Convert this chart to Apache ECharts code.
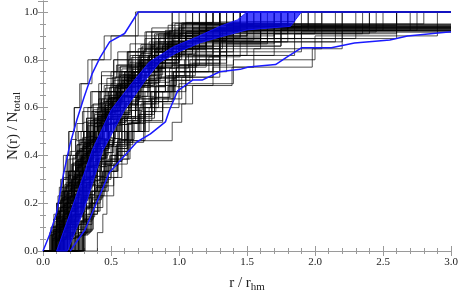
<!DOCTYPE html>
<html><head><meta charset="utf-8">
<script src="https://cdn.jsdelivr.net/npm/echarts@6/dist/echarts.min.js"></script>
<style>html,body{margin:0;padding:0;background:#fff}#c{width:458px;height:292px}</style>
</head><body><div id="c"></div>
<script>
// ---- data ----
const xTickLabels = ['0.0','0.5','1.0','1.5','2.0','2.5','3.0'];
const yTickLabels = ['0.0','0.2','0.4','0.6','0.8','1.0'];

// total members of each cluster (N_total)
const clusterTotals = [10,12,15,20,18,11,14,22,16,9,13,25,17,10,12,20,14,8,19,15,21,11,13,16,24,9,12,18,14,20,10,16,22,13,15,11,17,19,12,14,8,20,16,13,13,23,7,18,12,15,
  10,15,12,18,9,14,11,13,16,8,20,17,12,22,10,15,19,13,11,16,14,9,21,12,17,10,18,13,15,20,
  16,12,20,14,9,18,11,15,22,13,10,17,19,12,14,16,8,21,13,15];
// radii (r / r_hm) at which the cumulative count steps up
const clusterRadii = [
 [0.06,0.1,0.13,0.15,0.19,0.23,0.28,0.36,0.5,0.7],
 [0.08,0.12,0.15,0.2,0.26,0.3,0.35,0.42,0.5,0.62,0.8,0.95],
 [0.1,0.14,0.18,0.21,0.25,0.3,0.33,0.38,0.45,0.52,0.6,0.72,0.9,1.1,1.45],
 [0.12,0.15,0.18,0.2,0.23,0.26,0.3,0.33,0.37,0.41,0.46,0.5,0.56,0.62,0.7,0.8,0.92,1.05,1.3,1.6],
 [0.15,0.2,0.24,0.28,0.32,0.36,0.41,0.46,0.52,0.58,0.65,0.74,0.85,0.98,1.15,1.4,1.9,2.6],
 [0.2,0.25,0.3,0.37,0.45,0.55,0.68,0.85,1.1,1.5,2.4],
 [0.07,0.1,0.13,0.17,0.22,0.27,0.33,0.4,0.48,0.58,0.7,0.88,1.2,1.8],
 [0.1,0.12,0.14,0.17,0.19,0.22,0.25,0.28,0.31,0.34,0.38,0.42,0.46,0.51,0.56,0.62,0.7,0.78,0.9,1.05,1.35,1.7],
 [0.18,0.22,0.26,0.3,0.35,0.4,0.45,0.52,0.6,0.68,0.78,0.9,1.05,1.3,1.65,1.95],
 [0.22,0.3,0.38,0.47,0.6,0.75,0.95,1.3,2.6],
 [0.11,0.16,0.2,0.24,0.28,0.33,0.39,0.46,0.55,0.66,0.82,1.15,1.4],
 [0.09,0.11,0.13,0.15,0.17,0.19,0.21,0.23,0.26,0.29,0.32,0.35,0.38,0.42,0.46,0.5,0.55,0.6,0.66,0.73,0.82,0.95,1.15,1.5,1.85],
 [0.13,0.17,0.21,0.25,0.28,0.31,0.35,0.39,0.44,0.5,0.57,0.65,0.75,0.9,1.1,1.55,2.2],
 [0.25,0.32,0.4,0.5,0.62,0.78,1.0,1.4,2.0,2.9],
 [0.06,0.1,0.14,0.19,0.25,0.32,0.4,0.5,0.63,0.8,1.1,1.35],
 [0.16,0.19,0.22,0.25,0.28,0.31,0.34,0.37,0.41,0.45,0.5,0.55,0.61,0.68,0.76,0.86,1.0,1.25,1.7,2.05],
 [0.3,0.34,0.38,0.43,0.48,0.55,0.62,0.7,0.8,0.93,1.1,1.35,1.75],
 [0.12,0.2,0.27,0.35,0.45,0.6,0.85,1.6],
 [0.1,0.13,0.16,0.19,0.22,0.25,0.29,0.33,0.37,0.42,0.47,0.53,0.6,0.68,0.78,0.9,1.1,1.45,1.75],
 [0.2,0.23,0.27,0.31,0.35,0.4,0.45,0.5,0.57,0.65,0.74,0.86,1.0,1.3,1.6],
 [0.14,0.16,0.18,0.21,0.24,0.27,0.3,0.33,0.36,0.4,0.44,0.48,0.53,0.58,0.64,0.71,0.8,0.92,1.1,1.4,1.8],
 [0.08,0.13,0.18,0.24,0.3,0.38,0.48,0.6,0.78,1.0,2.0],
 [0.26,0.31,0.36,0.42,0.48,0.55,0.63,0.72,0.83,0.98,1.2,1.6,2.5],
 [0.11,0.15,0.19,0.23,0.27,0.31,0.36,0.41,0.47,0.54,0.62,0.72,0.85,1.0,1.4,1.65],
 [0.13,0.15,0.17,0.19,0.21,0.23,0.25,0.27,0.3,0.33,0.36,0.39,0.43,0.47,0.51,0.56,0.61,0.67,0.74,0.82,0.92,1.05,1.3,1.5],
 [0.16,0.22,0.3,0.4,0.52,0.68,0.9,1.2,1.85],
 [0.3,0.36,0.41,0.46,0.55,0.64,0.75,0.88,1.05,1.3,1.9,2.45],
 [0.09,0.12,0.15,0.18,0.21,0.24,0.28,0.32,0.37,0.42,0.48,0.55,0.63,0.72,0.85,1.0,1.3,1.55],
 [0.17,0.21,0.25,0.29,0.34,0.39,0.45,0.52,0.6,0.7,0.82,1.0,1.3,1.6],
 [0.19,0.22,0.25,0.28,0.31,0.34,0.37,0.41,0.45,0.49,0.54,0.59,0.65,0.72,0.8,0.9,1.02,1.2,1.5],
 [0.1,0.15,0.21,0.28,0.35,0.44,0.55,0.7,0.9,1.25],
 [0.24,0.28,0.32,0.36,0.4,0.45,0.5,0.56,0.62,0.7,0.79,0.9,1.05,1.3,1.8],
 [0.11,0.13,0.15,0.17,0.2,0.23,0.26,0.29,0.32,0.35,0.39,0.43,0.47,0.52,0.57,0.63,0.7,0.78,0.88,1.0,1.2,1.45],
 [0.14,0.19,0.24,0.29,0.35,0.41,0.48,0.56,0.66,0.78,0.95,1.2,1.5],
 [0.05,0.08,0.11,0.14,0.18,0.22,0.27,0.33,0.4,0.48,0.57,0.68,0.82,1.0],
 [0.26,0.32,0.38,0.45,0.55,0.66,0.8,0.97,1.25,1.7,2.6],
 [0.12,0.15,0.18,0.22,0.26,0.3,0.34,0.39,0.44,0.5,0.57,0.65,0.75,0.88,1.05,1.35,1.75],
 [0.21,0.24,0.27,0.3,0.33,0.36,0.4,0.44,0.48,0.53,0.58,0.64,0.71,0.79,0.88,1.0,1.2,1.6],
 [0.1,0.14,0.18,0.23,0.28,0.34,0.41,0.5,0.6,0.74,0.92,1.2],
 [0.08,0.11,0.15,0.19,0.24,0.29,0.35,0.42,0.5,0.6,0.72,0.88,1.1,1.45],
 [0.28,0.36,0.45,0.58,0.74,0.96,1.35,2.2],
 [0.15,0.17,0.2,0.23,0.26,0.29,0.32,0.36,0.4,0.44,0.48,0.53,0.58,0.64,0.71,0.79,0.9,1.05,1.3,2.8],
 [0.07,0.1,0.13,0.16,0.2,0.24,0.29,0.34,0.4,0.47,0.55,0.65,0.77,0.92,1.15],
 [0.4,0.44,0.47,0.52,0.58,0.63,0.95,1.02,1.1,1.39,1.98,2.2,2.75],
 [0.18,0.23,0.28,0.33,0.39,0.45,0.52,0.6,0.7,0.82,1.0,1.3,2.05],
 [0.1,0.12,0.14,0.16,0.18,0.2,0.22,0.25,0.28,0.31,0.34,0.37,0.41,0.45,0.49,0.54,0.59,0.65,0.72,0.8,0.9,1.05,1.3],
 [0.14,0.25,0.35,0.48,0.65,0.9,1.35],
 [0.23,0.26,0.29,0.32,0.35,0.39,0.43,0.47,0.52,0.57,0.63,0.7,0.78,0.87,0.98,1.15,1.45],
 [0.09,0.12,0.16,0.2,0.25,0.3,0.36,0.43,0.52,0.62,0.76,0.95],
 [0.26,0.3,0.34,0.39,0.44,0.5,0.56,0.63,0.71,0.8,0.92,1.08,1.3,1.65],
 [0.06,0.11,0.14,0.17,0.19,0.23,0.27,0.33,0.45,0.68],
 [0.06,0.08,0.1,0.12,0.15,0.18,0.21,0.25,0.3,0.36,0.43,0.52,0.64,0.8,1.05],
 [0.09,0.11,0.14,0.17,0.2,0.24,0.29,0.35,0.43,0.55,0.75,1.0],
 [0.08,0.1,0.12,0.14,0.16,0.19,0.22,0.25,0.28,0.32,0.36,0.41,0.47,0.54,0.63,0.75,0.92,1.15],
 [0.1,0.14,0.19,0.25,0.32,0.42,0.55,0.8,1.7],
 [0.28,0.32,0.36,0.41,0.47,0.54,0.62,0.71,0.82,0.94,1.08,1.3,1.75],
 [0.3,0.37,0.44,0.52,0.62,0.74,0.88,1.02,1.3,1.85,2.35],
 [0.27,0.33,0.4,0.47,0.55,0.64,0.75,0.88,1.05,1.25,1.55,2.05,2.7],
 [0.22,0.26,0.3,0.35,0.4,0.46,0.53,0.61,0.7,0.8,0.92,1.05,1.22,1.45,1.75,2.4],
 [0.2,0.3,0.42,0.58,0.75,0.95,1.25,2.15],
 [0.11,0.13,0.15,0.17,0.19,0.21,0.24,0.27,0.3,0.33,0.37,0.41,0.45,0.5,0.56,0.63,0.72,0.85,1.0,1.25],
 [0.17,0.2,0.23,0.26,0.29,0.33,0.37,0.42,0.47,0.53,0.6,0.68,0.78,0.9,1.1,1.4,1.75],
 [0.13,0.18,0.22,0.27,0.33,0.39,0.46,0.55,0.66,0.8,1.0,1.6],
 [0.07,0.09,0.11,0.13,0.15,0.17,0.19,0.21,0.24,0.27,0.3,0.33,0.37,0.41,0.46,0.51,0.57,0.64,0.72,0.82,0.95,1.25],
 [0.18,0.24,0.31,0.39,0.48,0.58,0.7,0.85,1.05,1.5],
 [0.29,0.33,0.37,0.42,0.47,0.53,0.6,0.67,0.75,0.85,0.97,1.12,1.35,1.7],
 [0.12,0.14,0.17,0.2,0.23,0.26,0.29,0.33,0.37,0.41,0.46,0.51,0.57,0.64,0.72,0.82,0.95,1.15,1.55],
 [0.05,0.08,0.11,0.15,0.19,0.24,0.3,0.37,0.45,0.56,0.7,0.9],
 [0.24,0.3,0.36,0.43,0.51,0.6,0.7,0.83,1.0,1.3,1.8],
 [0.16,0.19,0.22,0.26,0.3,0.34,0.39,0.44,0.5,0.57,0.65,0.75,0.87,1.02,1.3,1.9],
 [0.2,0.24,0.28,0.32,0.37,0.42,0.48,0.55,0.63,0.72,0.84,0.98,1.2],
 [0.29,0.36,0.44,0.54,0.66,0.82,1.0,1.4,2.3],
 [0.09,0.11,0.13,0.15,0.17,0.19,0.22,0.25,0.28,0.31,0.34,0.38,0.42,0.47,0.52,0.58,0.65,0.73,0.83,0.97,1.2],
 [0.15,0.2,0.25,0.3,0.36,0.42,0.5,0.59,0.7,0.84,1.05],
 [0.25,0.28,0.31,0.34,0.38,0.42,0.46,0.51,0.56,0.62,0.69,0.77,0.86,0.97,1.12,1.35],
 [0.07,0.11,0.15,0.2,0.26,0.33,0.41,0.52,0.68,1.1],
 [0.14,0.17,0.2,0.23,0.26,0.29,0.33,0.37,0.41,0.46,0.51,0.57,0.64,0.72,0.82,0.95,1.15,1.4],
 [0.3,0.35,0.4,0.45,0.5,0.57,0.65,0.74,0.85,0.98,1.13,1.32,1.95],
 [0.13,0.16,0.19,0.23,0.27,0.31,0.36,0.41,0.47,0.54,0.62,0.72,0.85,1.02,1.3],
 [0.18,0.2,0.22,0.24,0.27,0.3,0.33,0.36,0.39,0.43,0.47,0.51,0.56,0.61,0.67,0.74,0.83,0.94,1.1,1.4],
 [0.09,0.12,0.15,0.18,0.22,0.26,0.3,0.35,0.4,0.46,0.53,0.61,0.7,0.82,1.0,1.3],
 [0.14,0.19,0.23,0.28,0.34,0.4,0.47,0.56,0.67,0.82,1.05,1.5],
 [0.1,0.12,0.14,0.16,0.19,0.22,0.25,0.28,0.32,0.36,0.4,0.45,0.5,0.56,0.63,0.71,0.8,0.92,1.1,1.45],
 [0.21,0.25,0.29,0.33,0.38,0.43,0.49,0.56,0.64,0.73,0.85,1.0,1.25,1.7],
 [0.12,0.17,0.23,0.3,0.38,0.48,0.62,0.85,1.3],
 [0.16,0.18,0.21,0.24,0.27,0.3,0.34,0.38,0.42,0.47,0.52,0.58,0.65,0.73,0.83,0.96,1.15,1.6],
 [0.08,0.12,0.17,0.22,0.28,0.35,0.43,0.53,0.66,0.85,1.15],
 [0.27,0.31,0.35,0.39,0.44,0.49,0.55,0.62,0.7,0.79,0.9,1.04,1.25,1.6],
 [0.12,0.14,0.16,0.18,0.2,0.22,0.24,0.27,0.3,0.33,0.36,0.4,0.44,0.48,0.53,0.58,0.64,0.71,0.79,0.89,1.02,1.25],
 [0.19,0.24,0.29,0.34,0.4,0.46,0.53,0.61,0.7,0.81,0.95,1.15],
 [0.11,0.16,0.22,0.29,0.37,0.46,0.57,0.72,0.95,1.4],
 [0.23,0.26,0.3,0.34,0.38,0.42,0.47,0.52,0.58,0.65,0.73,0.82,0.93,1.07,1.25,1.6],
 [0.07,0.09,0.11,0.13,0.16,0.19,0.22,0.25,0.29,0.33,0.38,0.43,0.49,0.56,0.64,0.74,0.86,1.02,1.3],
 [0.31,0.36,0.42,0.48,0.55,0.63,0.72,0.83,0.96,1.12,1.35],
 [0.12,0.15,0.19,0.23,0.27,0.32,0.37,0.43,0.5,0.58,0.68,0.8,0.97,1.2],
 [0.2,0.23,0.26,0.3,0.34,0.38,0.43,0.48,0.54,0.61,0.69,0.78,0.9,1.05,1.35],
 [0.09,0.16,0.24,0.33,0.44,0.58,0.78,1.1],
 [0.15,0.17,0.19,0.21,0.23,0.25,0.28,0.31,0.34,0.37,0.41,0.45,0.49,0.54,0.59,0.65,0.72,0.8,0.9,1.03,1.3],
 [0.1,0.13,0.17,0.21,0.26,0.31,0.37,0.44,0.52,0.62,0.75,0.93],
 [0.17,0.2,0.24,0.28,0.32,0.37,0.42,0.48,0.55,0.63,0.72,0.83,0.98,1.2,1.5]
];

// blue envelope curves (max and min of all profiles)
const envelopeMax = [[0,0],[0.05,0.07],[0.1,0.16],[0.15,0.32],[0.2,0.45],[0.25,0.55],[0.3,0.64],[0.36,0.74],[0.42,0.81],[0.49,0.875],[0.6,0.91],[0.7,1.0],[3.0,1.0]];
const envelopeMin = [[0.2,0],[0.31,0.09],[0.49,0.33],[0.69,0.456],[0.79,0.49],[0.9,0.54],[0.93,0.59],[0.99,0.67],[1.1,0.715],[1.17,0.715],[1.3,0.75],[1.45,0.76],[1.51,0.77],[1.71,0.78],[1.79,0.81],[1.9,0.85],[2.12,0.85],[2.29,0.87],[2.55,0.883],[2.68,0.9],[3.0,0.917]];
// blue band (inner spread)
const bandUpper = [[0.1,0],[0.2,0.16],[0.3,0.32],[0.36,0.42],[0.5,0.59],[0.65,0.7],[0.78,0.79],[0.96,0.855],[1.13,0.895],[1.3,0.94],[1.43,0.967],[1.5,1.0]];
const bandLower = [[0.18,0],[0.3,0.17],[0.44,0.42],[0.6,0.59],[0.76,0.72],[0.86,0.79],[0.985,0.83],[1.15,0.87],[1.3,0.895],[1.5,0.925],[1.82,0.94],[1.86,0.97],[1.9,1.0]];

// ---- chart ----
const FONT = '"Liberation Serif","DejaVu Serif",serif';
const series = [];
clusterRadii.forEach((radii, i) => {
  const n = clusterTotals[i];
  const pts = [[0, 0]];
  radii.forEach((r, k) => pts.push([r, (k + 1) / n]));
  pts.push([3.0, radii.length / n]);
  series.push({type:'line', step:'end', data:pts, symbol:'none', silent:true, animation:false,
    lineStyle:{color:'rgba(0,0,0,0.68)', width:1}, z:2});
});
const bandPoly = bandUpper.concat(bandLower.slice().reverse());
series.push({type:'custom', data:[[0,0]], silent:true, animation:false, z:3,
  renderItem:(params, api) => ({
    type:'polygon',
    shape:{points: bandPoly.map(p => api.coord(p))},
    style:{fill:'rgba(0,0,255,0.72)', stroke:'rgba(20,20,255,0.9)', lineWidth:1}
  })});
[envelopeMax, envelopeMin].forEach(d => series.push({type:'line', data:d, symbol:'none', silent:true, animation:false,
  lineStyle:{color:'#1a1aff', width:1.5}, z:4}));

const frame = '#9a9a9a';
const tickStyle = {show:true, inside:true, length:5, lineStyle:{color:frame}};
const minorStyle = {show:true, length:3, lineStyle:{color:frame}};
const lbl = {fontFamily:FONT, fontSize:11, color:'#222'};

const chart = echarts.init(document.getElementById('c'), null, {renderer:'canvas'});
chart.setOption({
  animation:false,
  grid:{left:43, right:7, top:1, bottom:41, containLabel:false, outerBoundsMode:'none'},
  xAxis:[
    {type:'value', min:0, max:3, interval:0.5, position:'bottom',
     axisLine:{show:true, lineStyle:{color:frame}}, axisTick:tickStyle,
     minorTick:Object.assign({splitNumber:5}, minorStyle), splitLine:{show:false},
     axisLabel:Object.assign({margin:6, formatter:v => xTickLabels[Math.round(v/0.5)]}, lbl),
     name:'r / r{s|hm}', nameLocation:'middle', nameGap:23, nameMoveOverlap:false,
     nameTextStyle:{fontFamily:FONT, fontSize:15, color:'#222',
       rich:{s:{fontFamily:FONT, fontSize:11, color:'#222', padding:[8,0,0,0]}}}},
    {type:'value', min:0, max:3, interval:0.5, position:'top',
     axisLine:{show:true, lineStyle:{color:frame}}, axisTick:tickStyle,
     minorTick:Object.assign({splitNumber:5}, minorStyle), splitLine:{show:false}, axisLabel:{show:false}}
  ],
  yAxis:[
    {type:'value', min:0, max:1.046, interval:0.2, position:'left',
     axisLine:{show:true, lineStyle:{color:frame}}, axisTick:tickStyle,
     minorTick:Object.assign({splitNumber:4}, minorStyle), splitLine:{show:false},
     axisLabel:Object.assign({margin:5, showMaxLabel:false,
       formatter:v => { const i = Math.round(v/0.2); return Math.abs(v - i*0.2) < 1e-6 ? yTickLabels[i] : ''; }}, lbl),
     name:'N(r) / N{s|total}', nameLocation:'middle', nameGap:20, nameRotate:90, nameMoveOverlap:false,
     nameTextStyle:{fontFamily:FONT, fontSize:15, color:'#222',
       rich:{s:{fontFamily:FONT, fontSize:11, color:'#222', padding:[8,0,0,0]}}}},
    {type:'value', min:0, max:1.046, interval:0.2, position:'right',
     axisLine:{show:true, lineStyle:{color:frame}}, axisTick:tickStyle,
     minorTick:Object.assign({splitNumber:4}, minorStyle), splitLine:{show:false}, axisLabel:{show:false}}
  ],
  series: series
});
</script></body></html>
